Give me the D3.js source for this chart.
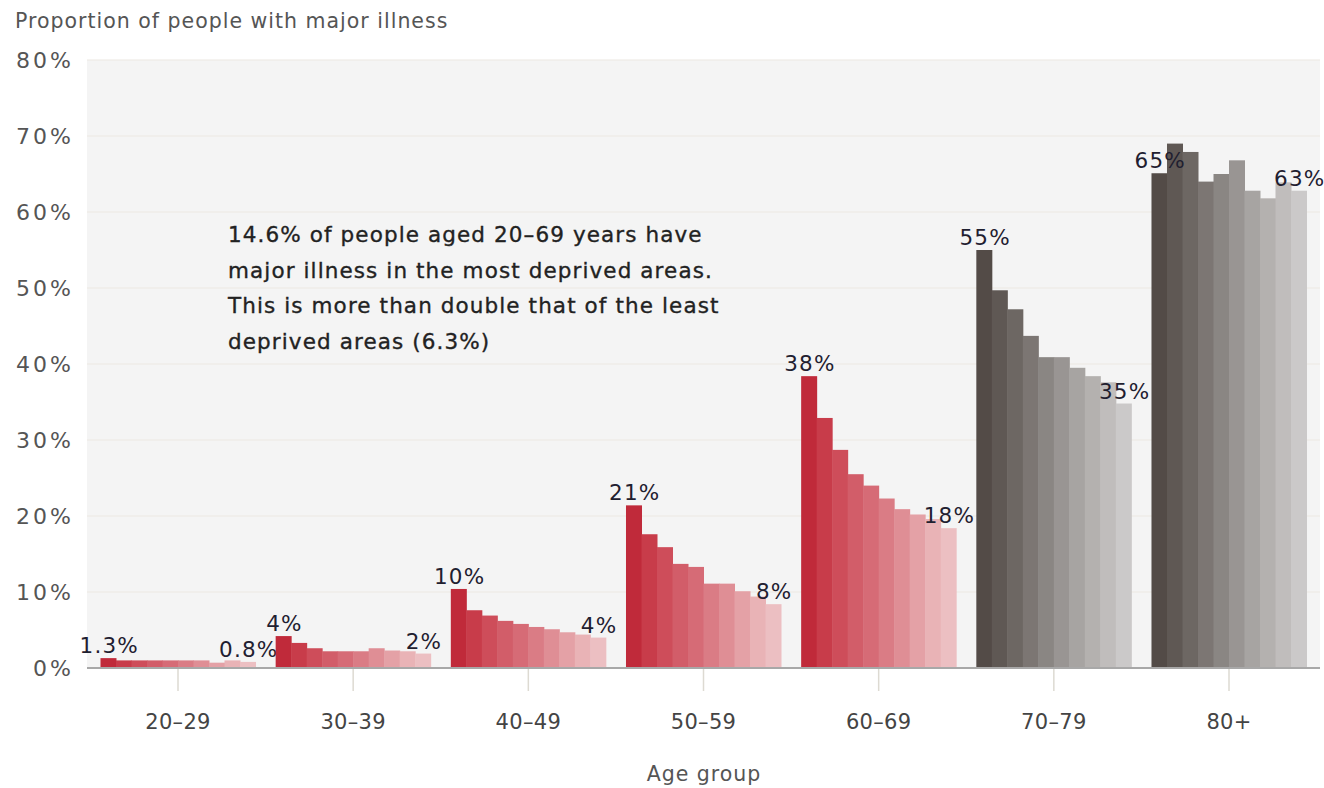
<!DOCTYPE html>
<html>
<head>
<meta charset="utf-8">
<script src="https://cdn.jsdelivr.net/npm/d3@7"></script>
<style>
  html, body { margin: 0; padding: 0; background: #ffffff; }
  svg { display: block; }
  text { font-family: "DejaVu Sans", "Liberation Sans", sans-serif; }
</style>
</head>
<body>
<svg id="chart" width="1324" height="788"></svg>
<script>
// Age groups along the x axis
const ageGroups = ["20–29", "30–39", "40–49", "50–59", "60–69", "70–79", "80+"];

// Ten deprivation deciles per age group, most deprived first (percent with major illness)
const illness2029 = [1.3, 1.0, 1.0, 1.0, 1.0, 1.0, 1.0, 0.7, 1.0, 0.8];
const illness3039 = [4.2, 3.3, 2.6, 2.2, 2.2, 2.2, 2.6, 2.3, 2.2, 1.9];
const illness4049 = [10.4, 7.6, 6.9, 6.2, 5.8, 5.4, 5.1, 4.7, 4.4, 4.0];
const illness5059 = [21.4, 17.6, 15.9, 13.7, 13.3, 11.1, 11.1, 10.1, 9.4, 8.4];
const illness6069 = [38.4, 32.9, 28.7, 25.5, 24.0, 22.3, 20.9, 20.2, 19.6, 18.4];
const illness7079 = [55.0, 49.7, 47.2, 43.7, 40.9, 40.9, 39.5, 38.4, 37.6, 34.8];
const illness80 = [65.1, 69.0, 67.9, 64.0, 65.0, 66.8, 62.8, 61.8, 63.9, 62.8];

// Decimal places used for the end-of-group value labels
const labelDecimals = [1, 0, 0, 0, 0, 0, 0];

// Y axis ticks
const yTicks = [0, 10, 20, 30, 40, 50, 60, 70, 80];

// Decile shades: reds for working ages, greys for 70+
const redShades = ["#c02a3a", "#c83c4a", "#ce4d5a", "#d25d69", "#d66b76",
                   "#da7c85", "#df8e95", "#e4a1a6", "#e9b3b6", "#ecbfc2"];
const greyShades = ["#534b47", "#5f5854", "#6d6763", "#7c7673", "#8a8683",
                    "#999593", "#a7a4a2", "#b4b1af", "#c0bdbc", "#cbc9c9"];

const seriesByGroup = [illness2029, illness3039, illness4049, illness5059,
                       illness6069, illness7079, illness80];

const svg = d3.select("#chart");
const plot = { left: 87, right: 1320, top: 60, bottom: 668 };

const x0 = d3.scaleBand()
  .domain(ageGroups)
  .range([plot.left, plot.right])
  .paddingInner(0.115)
  .paddingOuter(0.077);

const x1 = d3.scaleBand()
  .domain(d3.range(10))
  .range([0, x0.bandwidth()])
  .padding(0);

const y = d3.scaleLinear().domain([0, 80]).range([plot.bottom, plot.top]);

// Plot background
svg.append("rect")
  .attr("x", plot.left).attr("y", plot.top)
  .attr("width", plot.right - plot.left).attr("height", plot.bottom - plot.top)
  .attr("fill", "#f4f4f4");

// Horizontal gridlines
svg.append("g")
  .selectAll("line")
  .data(yTicks.filter(d => d > 0))
  .join("line")
  .attr("x1", plot.left).attr("x2", plot.right)
  .attr("y1", d => y(d)).attr("y2", d => y(d))
  .attr("stroke", "#ebe8e1").attr("stroke-width", 1.2);

// Y axis labels
const yAxis = d3.axisLeft(y).tickValues(yTicks).tickSize(0).tickPadding(0)
  .tickFormat(d => d + "%");
svg.append("g")
  .attr("transform", `translate(${plot.left - 13},0)`)
  .call(yAxis)
  .call(g => g.select(".domain").remove())
  .call(g => g.selectAll("text")
    .attr("fill", "#555").attr("font-size", 22)
    .attr("letter-spacing", "3px")
    .attr("font-family", "DejaVu Sans"));

// Bars
const groups = svg.append("g")
  .selectAll("g")
  .data(ageGroups.map((g, i) => ({ group: g, idx: i, values: seriesByGroup[i] })))
  .join("g")
  .attr("transform", d => `translate(${x0(d.group)},0)`);

groups.selectAll("rect")
  .data(d => d.values.map((v, j) => ({ v, j, grey: d.idx >= 5 })))
  .join("rect")
  .attr("x", d => x1(d.j))
  .attr("width", x1.bandwidth() + 0.5)
  .attr("y", d => y(d.v))
  .attr("height", d => y(0) - y(d.v))
  .attr("fill", d => (d.grey ? greyShades : redShades)[d.j]);

// Value labels above the first and last decile of each group
groups.selectAll("text.val")
  .data(d => [0, 9].map(j => ({ j, v: d.values[j], dec: labelDecimals[d.idx] })))
  .join("text")
  .attr("class", "val")
  .attr("x", d => x1(d.j) + x1.bandwidth() / 2 + 1)
  .attr("y", d => y(d.v) - 5)
  .attr("text-anchor", "middle")
  .attr("font-size", 21.5)
  .attr("letter-spacing", "1.2px")
  .attr("fill", "#1f2030")
  .text(d => d3.format(`.${d.dec}f`)(d.v) + "%");

// Baseline and x axis
svg.append("line")
  .attr("x1", plot.left).attr("x2", plot.right)
  .attr("y1", plot.bottom).attr("y2", plot.bottom)
  .attr("stroke", "#a8a8a8").attr("stroke-width", 2);

const xAxis = d3.axisBottom(x0).tickSize(22).tickPadding(23);
svg.append("g")
  .attr("transform", `translate(0,${plot.bottom + 1})`)
  .call(xAxis)
  .call(g => g.select(".domain").remove())
  .call(g => g.selectAll(".tick line").attr("stroke", "#dddad2").attr("stroke-width", 1.5))
  .call(g => g.selectAll("text")
    .attr("fill", "#444").attr("font-size", 21)
    .attr("letter-spacing", "0.3px")
    .attr("font-family", "Liberation Sans"));

// Titles
svg.append("text")
  .attr("x", 15).attr("y", 28)
  .attr("font-size", 20.5).attr("letter-spacing", "1px").attr("fill", "#555")
  .text("Proportion of people with major illness");

svg.append("text")
  .attr("x", 704).attr("y", 781)
  .attr("text-anchor", "middle")
  .attr("font-size", 20.5).attr("letter-spacing", "1px").attr("fill", "#555")
  .text("Age group");

// Annotation
const note = [
  "14.6% of people aged 20–69 years have",
  "major illness in the most deprived areas.",
  "This is more than double that of the least",
  "deprived areas (6.3%)"
];
svg.append("g")
  .selectAll("text")
  .data(note)
  .join("text")
  .attr("x", 228)
  .attr("y", (d, i) => 242 + i * 35.7)
  .attr("font-size", 21.5)
  .attr("letter-spacing", "1.1px")
  .attr("fill", "#222")
  .attr("stroke", "#222").attr("stroke-width", 0.35)
  .text(d => d);
</script>
</body>
</html>
